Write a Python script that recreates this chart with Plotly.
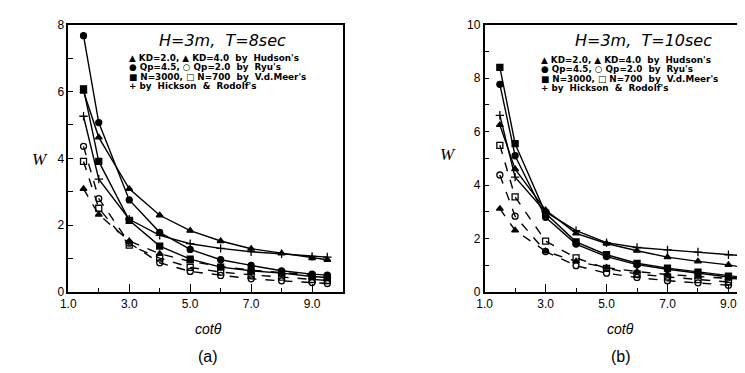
import plotly.graph_objects as go

cot = [1.5, 2, 3, 4, 5, 6, 7, 8, 9, 9.5]

# Panel (a): H=3m, T=8sec
a_kd2 = [6.0, 4.63, 3.09, 2.30, 1.84, 1.53, 1.30, 1.16, 1.02, 0.97]
a_kd4 = [3.09, 2.32, 1.53, 1.15, 0.92, 0.77, 0.66, 0.58, 0.51, 0.48]
a_qp45 = [7.67, 5.07, 2.76, 1.79, 1.28, 0.97, 0.80, 0.64, 0.54, 0.51]
a_qp20 = [4.36, 2.80, 1.47, 0.88, 0.62, 0.50, 0.40, 0.34, 0.29, 0.26]
a_n3000 = [6.08, 3.91, 2.15, 1.38, 0.99, 0.75, 0.64, 0.57, 0.47, 0.44]
a_n700 = [3.91, 2.51, 1.41, 1.02, 0.74, 0.60, 0.52, 0.45, 0.38, 0.35]
a_hick = [5.26, 3.38, 2.18, 1.70, 1.45, 1.31, 1.21, 1.15, 1.07, 1.05]

# Panel (b): H=3m, T=10sec
b_kd2 = [6.25, 4.60, 3.07, 2.20, 1.82, 1.55, 1.31, 1.15, 1.02, 0.92]
b_kd4 = [3.12, 2.31, 1.53, 1.15, 0.92, 0.77, 0.66, 0.58, 0.51, 0.48]
b_qp45 = [7.77, 5.10, 2.80, 1.80, 1.33, 1.03, 0.86, 0.71, 0.57, 0.52]
b_qp20 = [4.38, 2.84, 1.52, 0.99, 0.71, 0.55, 0.43, 0.35, 0.26, 0.22]
b_n3000 = [8.40, 5.55, 2.95, 1.88, 1.40, 1.08, 0.90, 0.75, 0.60, 0.55]
b_n700 = [5.49, 3.56, 1.91, 1.28, 0.89, 0.68, 0.57, 0.47, 0.38, 0.35]
b_hick = [6.61, 4.30, 3.00, 2.30, 1.85, 1.67, 1.58, 1.50, 1.40, 1.36]

x_ticks = [1, 3, 5, 7, 9]
x_ticktext = ["1.0", "3.0", "5.0", "7.0", "9.0"]

legend_lines = [
    "▲ KD=2.0, ▲ KD=4.0  by  Hudson's",
    "● Qp=4.5, ○ Qp=2.0  by  Ryu's",
    "■ N=3000, □ N=700  by  V.d.Meer's",
    "+ by  Hickson  &  Rodolf's",
]
titles = ["H=3m,  T=8sec", "H=3m,  T=10sec"]
labels = ["(a)", "(b)"]

W, H = 745, 373
fig = go.Figure()

def add_series(xa, ya, y, symbol, dash):
    fig.add_trace(go.Scatter(
        x=cot, y=y, xaxis=xa, yaxis=ya, mode="lines+markers",
        line=dict(color="black", width=1.4, dash=dash),
        marker=dict(symbol=symbol, size=6, color="black",
                    line=dict(color="black", width=1.3)),
        showlegend=False, hoverinfo="skip"))

for xa, ya, sets in [
    ("x", "y", [a_kd2, a_kd4, a_qp45, a_qp20, a_n3000, a_n700, a_hick]),
    ("x2", "y2", [b_kd2, b_kd4, b_qp45, b_qp20, b_n3000, b_n700, b_hick]),
]:
    kd2, kd4, qp45, qp20, n3000, n700, hick = sets
    add_series(xa, ya, kd2, "triangle-up", "solid")
    add_series(xa, ya, kd4, "triangle-up", "dash")
    add_series(xa, ya, qp45, "circle", "solid")
    add_series(xa, ya, qp20, "circle-open", "dash")
    add_series(xa, ya, n3000, "square", "solid")
    add_series(xa, ya, n700, "square-open", "dash")
    add_series(xa, ya, hick, "cross-thin", "solid")

tickfont = dict(family="Liberation Sans, Arial, sans-serif", size=12, color="black")

def xaxis(domain, rng, anchor):
    return dict(domain=domain, range=rng, anchor=anchor, showline=True, mirror=True,
                linecolor="black", linewidth=1.5, showgrid=False, zeroline=False,
                tickvals=x_ticks, ticktext=x_ticktext, ticks="inside", ticklen=8,
                tickwidth=1.3, tickcolor="black", tickfont=tickfont,
                minor=dict(tickvals=[2, 4, 6, 8], ticks="inside", ticklen=4,
                           tickwidth=1.2, tickcolor="black"))

def yaxis(domain, rng, major, minor, anchor):
    return dict(domain=domain, range=rng, anchor=anchor, showline=True, mirror=True,
                linecolor="black", linewidth=1.5, showgrid=False, zeroline=False,
                tickvals=major, ticks="inside", ticklen=5, tickwidth=1.3,
                tickcolor="black", tickfont=tickfont,
                minor=dict(tickvals=minor, ticks="inside", ticklen=5,
                           tickwidth=1.2, tickcolor="black"))

ydom = [1 - 288 / H, 1 - 10 / H]
fig.update_layout(
    width=W, height=H, margin=dict(l=0, r=0, t=0, b=0),
    paper_bgcolor="white", plot_bgcolor="white",
    xaxis=xaxis([53 / W, 331 / W], [1, 10], "y"),
    xaxis2=xaxis([475 / W, 1.0], [1, 9.74], "y2"),
    yaxis=yaxis(ydom, [0, 8], [0, 2, 4, 6, 8], [1, 3, 5, 7], "x"),
    yaxis2=yaxis(ydom, [0, 10], [0, 2, 4, 6, 8, 10], [1, 3, 5, 7, 9], "x2"),
)

ann = []
title_pos = [(209, 27), (636, 27)]
leg_x = [113, 530]
leg_y = [[45, 54.5, 64, 73.5], [47, 56.5, 66, 75.5]]
wpos = [(24, 150), (438, 145)]
centers = [195, 613]
for i in range(2):
    tx, ty = title_pos[i]
    ann.append(dict(x=tx / W, y=1 - ty / H, xref="paper", yref="paper",
                    text=titles[i], showarrow=False, xanchor="center", yanchor="middle",
                    font=dict(family="DejaVu Sans, sans-serif", size=16,
                              color="black", style="italic")))
    for j, line in enumerate(legend_lines):
        ann.append(dict(x=leg_x[i] / W, y=1 - leg_y[i][j] / H, xref="paper", yref="paper",
                        text="<b>" + line + "</b>", showarrow=False,
                        xanchor="left", yanchor="middle",
                        font=dict(family="DejaVu Sans, sans-serif", size=8.8,
                                  color="black")))
    wx, wy = wpos[i]
    ann.append(dict(x=wx / W, y=1 - wy / H, xref="paper", yref="paper",
                    text="W", showarrow=False, xanchor="center", yanchor="middle",
                    font=dict(family="Liberation Serif, serif", size=17, color="black",
                              style="italic")))
    ann.append(dict(x=centers[i] / W, y=1 - 326 / H, xref="paper", yref="paper",
                    text="cotθ", showarrow=False, xanchor="center", yanchor="middle",
                    font=dict(family="Liberation Sans, Arial, sans-serif", size=14,
                              color="black", style="italic")))
    ann.append(dict(x=centers[i] / W, y=1 - 355 / H, xref="paper", yref="paper",
                    text=labels[i], showarrow=False, xanchor="center", yanchor="middle",
                    font=dict(family="Liberation Sans, Arial, sans-serif", size=16,
                              color="black")))
fig.update_layout(annotations=ann)

fig.write_html("out.html")
